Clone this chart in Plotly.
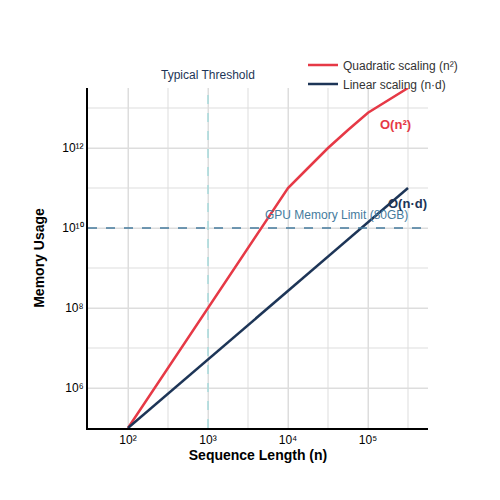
import plotly.graph_objects as go

# values (log10 units converted)
quad_n = [1e2, 1e3, 1e4, 10**4.25, 10**4.5, 10**4.75, 1e5, 10**5.5]
quad_mem = [1e5, 1e8, 1e11, 10**11.5, 10**12.0, 10**12.45, 10**12.88, 10**13.5]
lin_n = [1e2, 10**5.5]
lin_mem = [1e5, 1e11]
gpu_limit = 1e10
threshold_n = 1e3
x_ticks = [1e2, 1e3, 1e4, 1e5]
x_labels = ["10²", "10³", "10⁴", "10⁵"]
y_ticks = [1e6, 1e8, 1e10, 1e12]
y_labels = ["10⁶", "10⁸", "10¹⁰", "10¹²"]

red = "#e63946"
navy = "#1d3557"

fig = go.Figure()
fig.add_trace(go.Scatter(x=quad_n, y=quad_mem, mode="lines", name="Quadratic scaling (n²)",
                         line=dict(color=red, width=2.5)))
fig.add_trace(go.Scatter(x=lin_n, y=lin_mem, mode="lines", name="Linear scaling (n·d)",
                         line=dict(color=navy, width=2.5)))

fig.add_shape(type="line", xref="paper", x0=0, x1=1, yref="y", y0=gpu_limit, y1=gpu_limit,
              line=dict(color="#457b9d", width=1.5, dash="dash"))
fig.add_shape(type="line", yref="paper", y0=0, y1=1, xref="x", x0=threshold_n, x1=threshold_n,
              line=dict(color="#a8dadc", width=1.5, dash="dash"))

fig.add_annotation(x=4.6, y=10.1, text="GPU Memory Limit (80GB)", showarrow=False,
                   yanchor="bottom", font=dict(color="#457b9d", size=12))
fig.add_annotation(x=3, y=1.0, yref="paper", text="Typical Threshold", showarrow=False,
                   yanchor="bottom", yshift=4, font=dict(color=navy, size=12))
fig.add_annotation(x=5.34, y=12.6, text="<b>O(n²)</b>", showarrow=False,
                   font=dict(color=red, size=13))
fig.add_annotation(x=5.49, y=10.62, text="<b>O(n·d)</b>", showarrow=False,
                   font=dict(color=navy, size=13))

fig.update_layout(
    width=500, height=500,
    margin=dict(l=80, r=80, t=80, b=80, autoexpand=False),
    plot_bgcolor="white", paper_bgcolor="white",
    font=dict(family="Liberation Sans, Arial", size=12, color="black"),
    legend=dict(xref="container", yref="container", x=0.59, y=0.915, xanchor="left", yanchor="top",
                bgcolor="rgba(0,0,0,0)", font=dict(color="#333", size=12),
                tracegroupgap=0, itemwidth=30),
    xaxis=dict(type="log", range=[1.5, 5.75], tickvals=x_ticks, ticktext=x_labels,
               showgrid=True, gridcolor="#ddd", showline=True, linecolor="black",
               linewidth=2, automargin=False,
               title=dict(text="<b>Sequence Length (n)</b>", font=dict(size=14), standoff=2)),
    yaxis=dict(type="log", range=[5, 13.5], tickvals=y_ticks, ticktext=y_labels,
               showgrid=True, gridcolor="#ddd", showline=True, linecolor="black", linewidth=2,
               automargin=False,
               title=dict(text="<b>Memory Usage</b>", font=dict(size=14), standoff=14)),
)
# extra grid lines every decade (y) and half decade (x)
for e in range(6, 14):
    fig.add_shape(type="line", xref="paper", x0=0, x1=1, yref="y", y0=10**e, y1=10**e,
                  line=dict(color="#ddd", width=1), layer="below")
for e in [2, 2.5, 3, 3.5, 4, 4.5, 5, 5.5]:
    fig.add_shape(type="line", yref="paper", y0=0, y1=1, xref="x", x0=10**e, x1=10**e,
                  line=dict(color="#ddd", width=1), layer="below")

fig.write_html("out.html")
